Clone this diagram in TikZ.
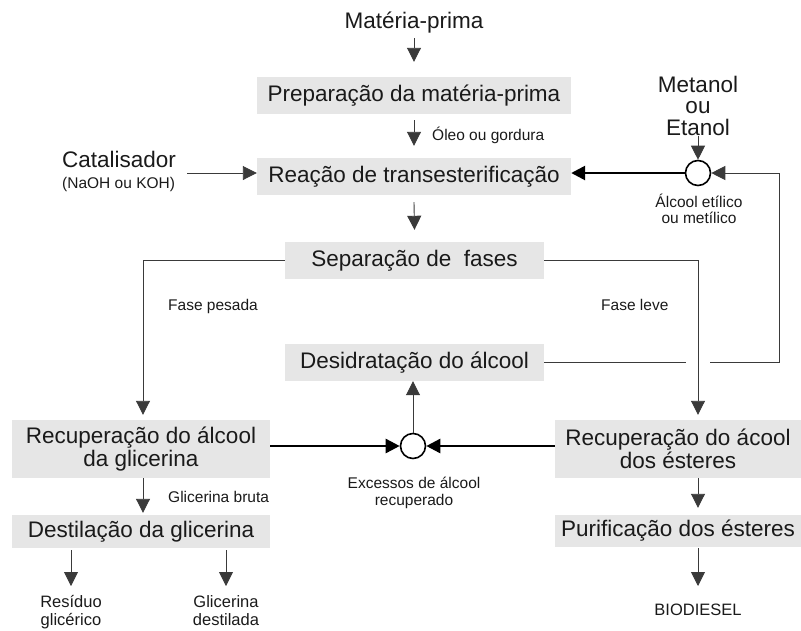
\documentclass[tikz,border=0pt]{standalone}
\usepackage{fontspec}
\setmainfont{Liberation Sans}
\usetikzlibrary{arrows.meta}
\newcommand\BoxFont{\fontsize{22.5}{23.5}\selectfont}
\newcommand\TopFont{\fontsize{22.5}{21.5}\selectfont}
\newcommand\SmallFont{\fontsize{15.5}{16.5}\selectfont}
\newcommand\BotFont{\fontsize{16.5}{18}\selectfont}
\definecolor{boxgray}{HTML}{E6E6E6}
\definecolor{ink}{HTML}{1A1A1A}
\definecolor{linegray}{HTML}{3A3A3A}
\begin{document}
\begin{tikzpicture}[x=1pt,y=-1pt,
  box/.style={fill=boxgray, text=ink, font=\BoxFont, inner sep=0pt, align=center},
  big/.style={text=ink, font=\BoxFont, inner sep=0pt, align=center},
  lbl/.style={text=ink, font=\SmallFont, inner sep=0pt, align=center},
  bot/.style={text=ink, font=\BotFont, inner sep=0pt, align=center},
  flow/.style={draw=linegray, line width=0.9pt, -{Triangle[length=14pt,width=14pt]}},
  plain/.style={draw=linegray, line width=0.9pt},
  heavy/.style={draw=black, line width=2.6pt, -{Triangle[length=14pt,width=14pt]}},
  mix/.style={circle, draw=black, line width=1.6pt, minimum size=25pt, inner sep=0pt, fill=white}]
\useasboundingbox (0,0) rectangle (801,630);

% boxes
\node[box, minimum width=314pt, minimum height=37pt] (prep) at (414,95.5) {Preparação da matéria-prima};
\node[box, minimum width=314pt, minimum height=37pt] (reac) at (414,176.5) {Reação de transesterificação};
\node[box, minimum width=259pt, minimum height=37pt] (sep) at (414.5,260.5) {Separação de\ \ fases};
\node[box, minimum width=259pt, minimum height=37pt] (des) at (414.5,362.5) {Desidratação do álcool};
\node[box, minimum width=258pt, minimum height=58pt] (recg) at (141,449) {Recuperação do álcool\\da glicerina};
\node[box, minimum width=246pt, minimum height=58pt] (rece) at (678,449) {Recuperação do ácool\\dos ésteres};
\node[box, minimum width=258pt, minimum height=33pt] (dest) at (141,531.5) {Destilação da glicerina};
\node[box, minimum width=246pt, minimum height=32pt] (pur) at (678,531) {Purificação dos ésteres};

% mixing points
\node[mix] (c1) at (698,173) {};
\node[mix] (c2) at (413,446) {};

% free labels (multi-line: base = last line's baseline)
\node[big, anchor=base] (mp) at (414,28) {Matéria-prima};
\node[big, anchor=base, font=\TopFont] (met) at (698,135) {Metanol\\ou\\Etanol};
\node[big, anchor=base west] (cat) at (62,167) {Catalisador};
\node[lbl, anchor=base west] (cat2) at (62,188) {(NaOH ou KOH)};
\node[lbl, anchor=base west] (oleo) at (432,140) {Óleo ou gordura};
\node[lbl, anchor=base, font=\fontsize{15.5}{16}\selectfont] (alc) at (699,223) {Álcool etílico\\ou metílico};
\node[lbl, anchor=base west] (pes) at (168,310) {Fase pesada};
\node[lbl, anchor=base west] (lev) at (601,310) {Fase leve};
\node[lbl, anchor=base, font=\fontsize{15.5}{17}\selectfont] (exc) at (414,505) {Excessos de álcool\\recuperado};
\node[lbl, anchor=base west] (gb) at (168,502) {Glicerina bruta};
\node[bot, anchor=base] (res) at (71,625) {Resíduo\\glicérico};
\node[bot, anchor=base] (gd) at (226,625) {Glicerina\\destilada};
\node[bot, anchor=base] (bio) at (698,615) {BIODIESEL};

% helper coordinates
\coordinate (catend) at (187,173);
\coordinate (metend) at (698,136);
\coordinate (gapL) at (686,362.5);
\coordinate (gapR) at (710,362.5);
\coordinate (corner) at (779,362.5);
\coordinate (resT) at (71,586);
\coordinate (gdT) at (226,586);
\coordinate (bioT) at (698,586);

% connectors
\draw[flow] ([yshift=-10pt]mp.base) -- ([yshift=15pt]prep.north);
\draw[flow] ([yshift=-6pt]prep.south) -- ([yshift=12pt]reac.north);
\draw[flow] ([yshift=-7pt]reac.south) -- ([yshift=12pt]sep.north);
\draw[flow] (sep.west) -| ([xshift=2pt,yshift=5pt]recg.north);
\draw[flow] (sep.east) -| ([xshift=20pt,yshift=5pt]rece.north);
\draw[plain] (des.east) -- (gapL);
\draw[flow] (gapR) -- (corner) |- (c1.east);
\draw[heavy] (c1.west) -- (reac.east |- c1.west);
\draw[flow] (metend) -- (c1.north);
\draw[flow] (catend) -- (reac.west |- catend);
\draw[heavy] (recg.east |- c2.west) -- (c2.west);
\draw[heavy] (rece.west |- c2.east) -- (c2.east);
\draw[flow] (c2.north) -- (des.south -| c2.north);
\draw[flow] ([xshift=2pt]recg.south) -- ([xshift=2pt,yshift=2pt]dest.north);
\draw[flow] ([yshift=-2pt]dest.south -| resT) -- (resT);
\draw[flow] ([yshift=-2pt]dest.south -| gdT) -- (gdT);
\draw[flow] ([xshift=20pt]rece.south) -- ([xshift=20pt,yshift=7pt]pur.north);
\draw[flow] ([yshift=-1pt]pur.south -| bioT) -- (bioT);
\end{tikzpicture}
\end{document}
